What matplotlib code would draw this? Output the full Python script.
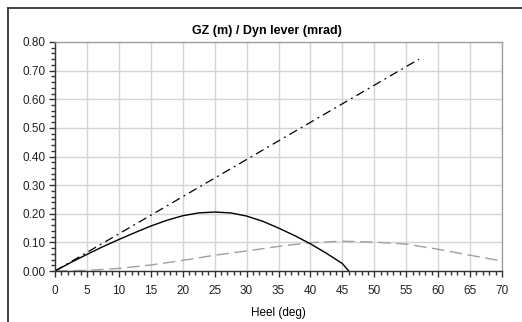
import matplotlib
matplotlib.use("Agg")
import matplotlib.pyplot as plt
from matplotlib.lines import Line2D
from matplotlib.ticker import MultipleLocator, FormatStrFormatter

plt.rcParams['font.family'] = ['Liberation Sans', 'DejaVu Sans']

# Data
gz_heel = [0, 2.5, 5, 7.5, 10, 12.5, 15, 17.5, 20, 22.5, 25, 27.5, 30, 32.5, 35, 37.5, 40, 42.5, 45, 46]
gz_vals = [0, 0.030, 0.058, 0.085, 0.110, 0.134, 0.157, 0.177, 0.193, 0.203, 0.206, 0.203, 0.192, 0.174,
           0.150, 0.124, 0.095, 0.062, 0.026, 0.0]
dyn_heel = [0, 5, 10, 15, 20, 25, 30, 35, 40, 45, 50, 55, 60, 65, 70]
dyn_vals = [0, 0.002, 0.009, 0.021, 0.037, 0.055, 0.070, 0.086, 0.099, 0.104, 0.101, 0.094, 0.076, 0.055, 0.035]
gm_heel = [0, 57]
gm_vals = [0, 0.74]

title = "GZ (m) / Dyn lever (mrad)"
xlabel = "Heel (deg)"

fig = plt.figure(figsize=(5.22, 3.22), dpi=100)
fig.patch.set_facecolor('white')
ax = fig.add_axes([55/522, 51/322, 447/522, 229/322])

ax.plot(dyn_heel, dyn_vals, color='#a0a0a0', lw=1.0, dashes=(9, 4))
ax.plot(gm_heel, gm_vals, color='black', lw=0.9, dashes=(7, 3.5, 1.5, 3.5))
ax.plot(gz_heel, gz_vals, color='black', lw=1.0)

ax.set_xlim(0, 70)
ax.set_ylim(0, 0.80)
ax.xaxis.set_major_locator(MultipleLocator(5))
ax.xaxis.set_minor_locator(MultipleLocator(1))
ax.yaxis.set_major_locator(MultipleLocator(0.1))
ax.yaxis.set_minor_locator(MultipleLocator(0.02))
ax.yaxis.set_major_formatter(FormatStrFormatter('%.2f'))
ax.grid(True, which='major', color='#d4d4d4', lw=1.0)
ax.set_axisbelow(True)
for s in ax.spines.values():
    s.set_color('#a0a0a0')
    s.set_linewidth(1.0)
ax.spines['bottom'].set_color('#333333')
ax.spines['left'].set_color('#333333')
ax.tick_params(which='major', length=4, width=1, color='#333333', labelsize=8.5, pad=6, labelcolor='#222222')
ax.tick_params(which='minor', length=3, width=1, color='#333333')
ax.tick_params(axis='y', which='major', pad=3)
ax.set_title(title, fontsize=9, fontweight='bold', pad=6, x=0.475)
ax.set_xlabel(xlabel, fontsize=8.5, labelpad=7)

# outer frame (top and left)
fig.add_artist(Line2D([8/522, 8/522], [0, 1 - 8/322], transform=fig.transFigure, color='#333333', lw=1.3))
fig.add_artist(Line2D([8/522, 1], [1 - 8/322, 1 - 8/322], transform=fig.transFigure, color='#333333', lw=1.3))

fig.savefig('out.png', dpi=100)
